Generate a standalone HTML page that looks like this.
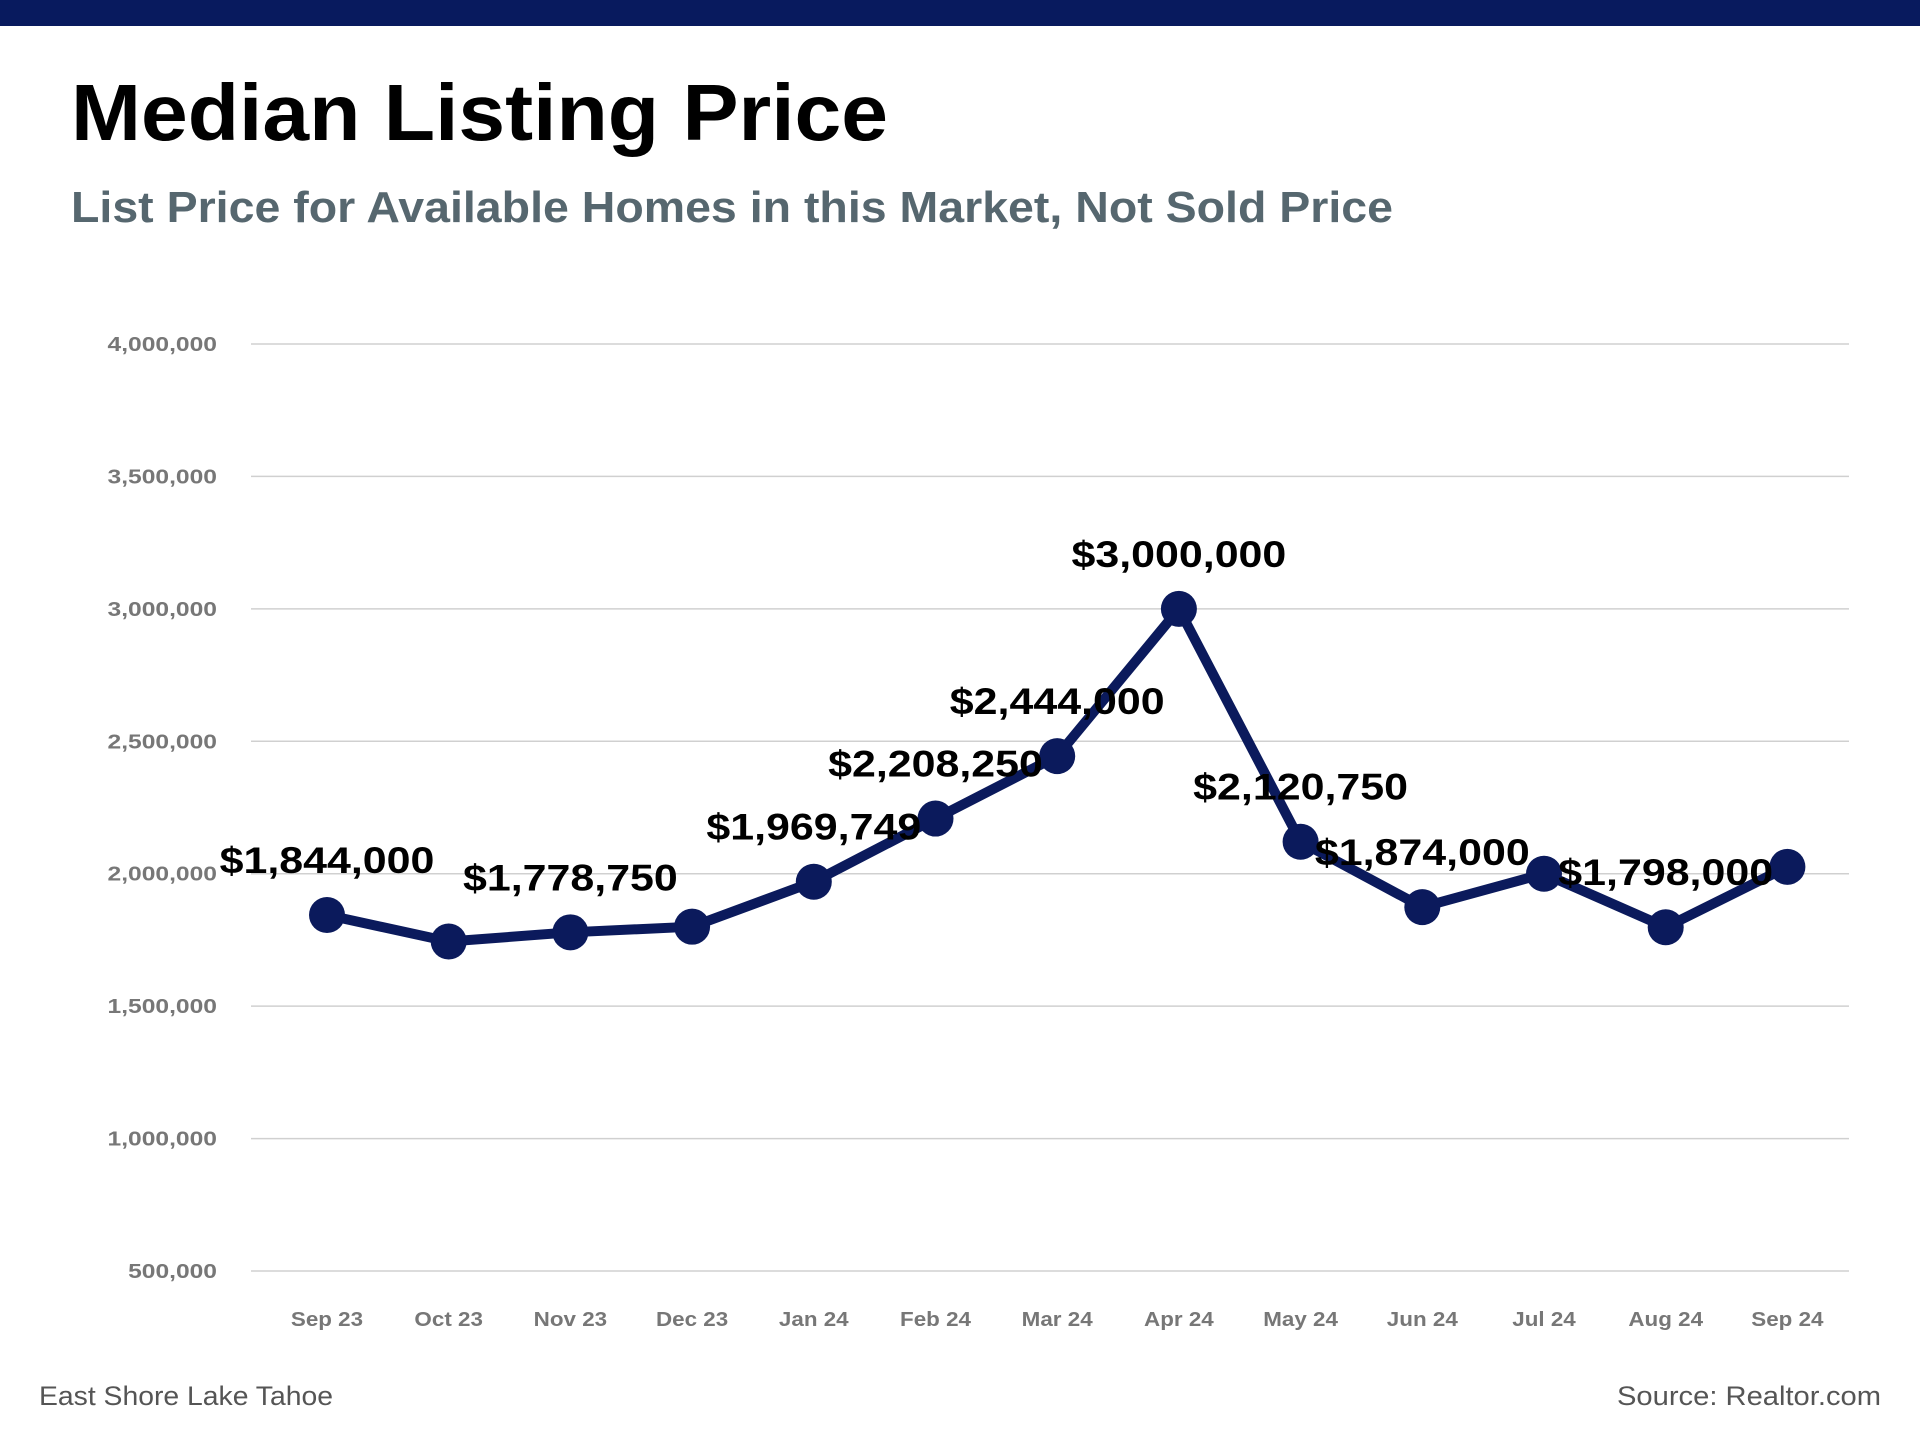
<!DOCTYPE html>
<html><head><meta charset="utf-8"><style>
html,body{margin:0;padding:0;background:#fff;}
svg{display:block;font-family:"Liberation Sans",sans-serif;}
</style></head><body>
<svg id="chart" width="1920" height="1440" viewBox="0 0 1920 1440">
<rect x="0" y="0" width="1920" height="26" fill="#081a5e"/>
<text x="71" y="140" font-size="80" font-weight="bold" fill="#000" textLength="817" lengthAdjust="spacingAndGlyphs">Median Listing Price</text>
<text x="71" y="222" font-size="44" font-weight="bold" fill="#56676f" textLength="1322" lengthAdjust="spacingAndGlyphs">List Price for Available Homes in this Market, Not Sold Price</text>
<g id="grid"></g>
<g id="yticks"></g>
<g id="xticks"></g>
<g id="series"></g>
<g id="labels"></g>
<text x="39" y="1405" font-size="27" fill="#555" textLength="294" lengthAdjust="spacingAndGlyphs">East Shore Lake Tahoe</text>
<text x="1881" y="1405" font-size="27" fill="#555" text-anchor="end" textLength="264" lengthAdjust="spacingAndGlyphs">Source: Realtor.com</text>
</svg>
<script>
const categories = ["Sep 23","Oct 23","Nov 23","Dec 23","Jan 24","Feb 24","Mar 24","Apr 24","May 24","Jun 24","Jul 24","Aug 24","Sep 24"];
const values = [1844000,1744000,1778750,1800000,1969749,2208250,2444000,3000000,2120750,1874000,2000000,1798000,2026000];
const pointLabels = ["$1,844,000","","$1,778,750","","$1,969,749","$2,208,250","$2,444,000","$3,000,000","$2,120,750","$1,874,000","","$1,798,000",""];
const yTicks = [500000,1000000,1500000,2000000,2500000,3000000,3500000,4000000];
const yTickLabels = ["500,000","1,000,000","1,500,000","2,000,000","2,500,000","3,000,000","3,500,000","4,000,000"];

const NS="http://www.w3.org/2000/svg";
const yMin=500000,yMax=4000000,yTop=344,yBot=1271;
const xFirst=327,xStep=121.7,plotL=251,plotR=1849;
function yScale(v){return yBot-(v-yMin)/(yMax-yMin)*(yBot-yTop);}
function xScale(i){return xFirst+i*xStep;}
function mk(tag,attrs,parent){const e=document.createElementNS(NS,tag);for(const k in attrs)e.setAttribute(k,attrs[k]);parent.appendChild(e);return e;}
function widen(t,f){const w=t.getComputedTextLength();t.setAttribute('textLength',(w*f).toFixed(1));t.setAttribute('lengthAdjust','spacingAndGlyphs');}

const grid=document.getElementById('grid'),yt=document.getElementById('yticks'),xt=document.getElementById('xticks'),ser=document.getElementById('series'),lab=document.getElementById('labels');
yTicks.forEach((v,i)=>{
  const y=yScale(v);
  const l=mk('line',{x1:plotL,x2:plotR,y1:y,y2:y,stroke:'#d0d0d0','stroke-width':1.5},grid);
  
  
  const t=mk('text',{x:217,y:y+7,'font-size':20,'font-weight':'bold',fill:'#777','text-anchor':'end'},yt);
  t.textContent=yTickLabels[i];
  
  
  widen(t,1.23);
});
categories.forEach((c,i)=>{
  const t=mk('text',{x:xScale(i),y:1326,'font-size':20,'font-weight':'bold',fill:'#777','text-anchor':'middle'},xt);
  t.textContent=c;
  
  
  widen(t,1.12);
});
const pts=values.map((v,i)=>xScale(i)+','+yScale(v)).join(' ');
const pl=mk('polyline',{points:pts,fill:'none',stroke:'#0b1a5c','stroke-width':10,'stroke-linejoin':'round'},ser);


values.forEach((v,i)=>{
  const c=mk('circle',{cx:xScale(i),cy:yScale(v),r:18,fill:'#0b1a5c'},ser);
  
  
  if(pointLabels[i]){
    const t=mk('text',{x:xScale(i),y:yScale(v)-42,'font-size':37,'font-weight':'bold',fill:'#000','text-anchor':'middle'},lab);
    t.textContent=pointLabels[i];
    
    
    widen(t,1.16);
  }
});
</script>
</body></html>
